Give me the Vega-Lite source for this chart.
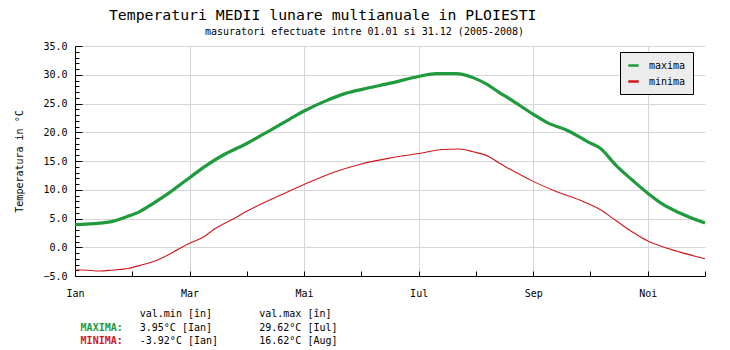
{
  "$schema": "https://vega.github.io/schema/vega-lite/v6.json",
  "background": "white",
  "padding": {"left": 14, "top": 8, "right": 5, "bottom": 0},
  "title": {"text": "Temperaturi MEDII lunare multianuale in PLOIESTI", "anchor": "start", "dx": 94, "font": "DejaVu Sans Mono", "fontSize": 14.8, "fontWeight": "normal", "color": "black", "offset": 4},
  "spacing": 9,
  "datasets": {
    "temps": [
      {"m": 0, "t": 3.95, "s": "maxima"},
      {"m": 0.43, "t": 4.2, "s": "maxima"},
      {"m": 0.66, "t": 4.5, "s": "maxima"},
      {"m": 0.9, "t": 5.3, "s": "maxima"},
      {"m": 1.13, "t": 6.2, "s": "maxima"},
      {"m": 1.36, "t": 7.6, "s": "maxima"},
      {"m": 1.65, "t": 9.5, "s": "maxima"},
      {"m": 2.0, "t": 12.1, "s": "maxima"},
      {"m": 2.29, "t": 14.2, "s": "maxima"},
      {"m": 2.58, "t": 16.0, "s": "maxima"},
      {"m": 2.99, "t": 18.0, "s": "maxima"},
      {"m": 3.4, "t": 20.3, "s": "maxima"},
      {"m": 3.75, "t": 22.3, "s": "maxima"},
      {"m": 4.0, "t": 23.7, "s": "maxima"},
      {"m": 4.39, "t": 25.5, "s": "maxima"},
      {"m": 4.74, "t": 26.8, "s": "maxima"},
      {"m": 5.03, "t": 27.5, "s": "maxima"},
      {"m": 5.49, "t": 28.5, "s": "maxima"},
      {"m": 6.0, "t": 29.7, "s": "maxima"},
      {"m": 6.31, "t": 30.2, "s": "maxima"},
      {"m": 6.66, "t": 30.2, "s": "maxima"},
      {"m": 6.95, "t": 29.5, "s": "maxima"},
      {"m": 7.18, "t": 28.4, "s": "maxima"},
      {"m": 7.41, "t": 26.9, "s": "maxima"},
      {"m": 7.59, "t": 25.8, "s": "maxima"},
      {"m": 7.99, "t": 23.2, "s": "maxima"},
      {"m": 8.28, "t": 21.5, "s": "maxima"},
      {"m": 8.58, "t": 20.4, "s": "maxima"},
      {"m": 8.98, "t": 18.2, "s": "maxima"},
      {"m": 9.16, "t": 17.3, "s": "maxima"},
      {"m": 9.45, "t": 14.2, "s": "maxima"},
      {"m": 9.74, "t": 11.6, "s": "maxima"},
      {"m": 10.0, "t": 9.4, "s": "maxima"},
      {"m": 10.26, "t": 7.5, "s": "maxima"},
      {"m": 10.55, "t": 6.0, "s": "maxima"},
      {"m": 11.0, "t": 4.2, "s": "maxima"},
      {"m": 0, "t": -3.95, "s": "minima"},
      {"m": 0.14, "t": -3.95, "s": "minima"},
      {"m": 0.43, "t": -4.13, "s": "minima"},
      {"m": 0.66, "t": -3.96, "s": "minima"},
      {"m": 0.92, "t": -3.7, "s": "minima"},
      {"m": 1.19, "t": -3.0, "s": "minima"},
      {"m": 1.42, "t": -2.3, "s": "minima"},
      {"m": 1.65, "t": -1.2, "s": "minima"},
      {"m": 2.0, "t": 0.7, "s": "minima"},
      {"m": 2.23, "t": 1.7, "s": "minima"},
      {"m": 2.47, "t": 3.4, "s": "minima"},
      {"m": 2.76, "t": 4.9, "s": "minima"},
      {"m": 2.99, "t": 6.2, "s": "minima"},
      {"m": 3.4, "t": 8.2, "s": "minima"},
      {"m": 3.57, "t": 9.0, "s": "minima"},
      {"m": 3.75, "t": 9.8, "s": "minima"},
      {"m": 4.0, "t": 10.9, "s": "minima"},
      {"m": 4.45, "t": 12.8, "s": "minima"},
      {"m": 4.97, "t": 14.4, "s": "minima"},
      {"m": 5.49, "t": 15.5, "s": "minima"},
      {"m": 6.0, "t": 16.3, "s": "minima"},
      {"m": 6.42, "t": 17.0, "s": "minima"},
      {"m": 6.71, "t": 17.1, "s": "minima"},
      {"m": 6.95, "t": 16.6, "s": "minima"},
      {"m": 7.24, "t": 15.7, "s": "minima"},
      {"m": 7.41, "t": 14.6, "s": "minima"},
      {"m": 7.59, "t": 13.6, "s": "minima"},
      {"m": 7.99, "t": 11.5, "s": "minima"},
      {"m": 8.4, "t": 9.7, "s": "minima"},
      {"m": 8.81, "t": 8.2, "s": "minima"},
      {"m": 9.16, "t": 6.6, "s": "minima"},
      {"m": 9.45, "t": 4.6, "s": "minima"},
      {"m": 9.74, "t": 2.6, "s": "minima"},
      {"m": 10.0, "t": 1.1, "s": "minima"},
      {"m": 10.26, "t": 0.1, "s": "minima"},
      {"m": 10.55, "t": -0.8, "s": "minima"},
      {"m": 11.0, "t": -2.0, "s": "minima"}
    ],
    "notes": [
      {"row": "h", "col": "min", "kind": "val", "txt": "val.min [în]"},
      {"row": "h", "col": "max", "kind": "val", "txt": "val.max [în]"},
      {"row": "MAXIMA", "col": "min", "kind": "val", "txt": "3.95°C [Ian]"},
      {"row": "MAXIMA", "col": "max", "kind": "val", "txt": "29.62°C [Iul]"},
      {"row": "MINIMA", "col": "min", "kind": "val", "txt": "-3.92°C [Ian]"},
      {"row": "MINIMA", "col": "max", "kind": "val", "txt": "16.62°C [Aug]"},
      {"row": "MAXIMA", "col": "min", "kind": "lbl", "txt": "MAXIMA:"},
      {"row": "MINIMA", "col": "min", "kind": "lbl", "txt": "MINIMA:"}
    ]
  },
  "vconcat": [
    {
      "width": 630,
      "height": 230,
      "title": {"text": "masuratori efectuate intre 01.01 si 31.12 (2005-2008)", "anchor": "start", "frame": "group", "dx": 130, "font": "DejaVu Sans Mono", "fontSize": 10, "fontWeight": "normal", "color": "black", "offset": 4},
      "data": {"name": "temps"},
      "encoding": {
        "x": {
          "field": "m", "type": "quantitative",
          "scale": {"domain": [0, 11], "nice": false, "zero": false},
          "axis": {
            "title": null,
            "values": [0, 1, 2, 3, 4, 5, 6, 7, 8, 9, 10, 11],
            "labelExpr": "datum.value % 2 === 0 ? ['Ian','Feb','Mar','Apr','Mai','Iun','Iul','Aug','Sep','Oct','Noi','Dec'][datum.value] : ''",
            "tickSize": -5,
            "labelPadding": 17,
            "labelFlush": false,
            "grid": true,
            "gridColor": "#d6d6d6",
            "gridOpacity": {"condition": {"test": "datum.value % 2 === 0 && datum.value > 0", "value": 1}, "value": 0}
          }
        },
        "y": {
          "field": "t", "type": "quantitative",
          "scale": {"domain": [-5, 35], "nice": false, "zero": false},
          "axis": {
            "title": "Temperatura in °C",
            "values": [-5, -4, -3, -2, -1, 0, 1, 2, 3, 4, 5, 6, 7, 8, 9, 10, 11, 12, 13, 14, 15, 16, 17, 18, 19, 20, 21, 22, 23, 24, 25, 26, 27, 28, 29, 30, 31, 32, 33, 34, 35],
            "labelExpr": "datum.value % 5 === 0 ? format(datum.value, '.1f') : ''",
            "tickSize": {"condition": {"test": "datum.value % 5 === 0", "value": -7}, "value": -4},
            "labelPadding": 15,
            "labelFlush": false,
            "labelOverlap": false,
            "grid": true,
            "gridColor": "#d6d6d6",
            "gridOpacity": {"condition": {"test": "datum.value % 5 === 0 && datum.value > -5", "value": 1}, "value": 0},
            "titlePadding": 18
          }
        },
        "color": {
          "field": "s", "type": "nominal",
          "scale": {"domain": ["maxima", "minima"], "range": ["#1f9a3c", "#d0181c"]},
          "legend": {
            "orient": "none", "legendX": 545, "legendY": 6, "title": null,
            "fillColor": "#ececec", "strokeColor": "black", "padding": 7,
            "symbolType": "stroke", "symbolStrokeWidth": 2.5, "symbolSize": 110,
            "labelFont": "DejaVu Sans Mono", "labelFontSize": 10, "labelColor": "black",
            "rowPadding": 4, "labelOffset": 9
          }
        }
      },
      "layer": [
        {
          "transform": [{"filter": "datum.s === 'minima'"}],
          "mark": {"type": "line", "interpolate": "monotone", "strokeWidth": 1.1}
        },
        {
          "transform": [{"filter": "datum.s === 'maxima'"}],
          "mark": {"type": "line", "interpolate": "monotone", "strokeWidth": 3.2}
        }
      ]
    },
    {
      "width": 249,
      "height": 41,
      "data": {"name": "notes"},
      "encoding": {
        "x": {"field": "col", "type": "nominal", "scale": {"type": "point", "domain": ["min", "max"], "padding": 0.542}, "axis": null},
        "y": {"field": "row", "type": "nominal", "scale": {"type": "point", "domain": ["h", "MAXIMA", "MINIMA"], "padding": 0.5}, "axis": null}
      },
      "layer": [
        {
          "transform": [{"filter": "datum.kind === 'val'"}],
          "mark": {"type": "text", "align": "left", "baseline": "middle", "font": "DejaVu Sans Mono", "fontSize": 10, "color": "black"},
          "encoding": {"text": {"field": "txt"}}
        },
        {
          "transform": [{"filter": "datum.kind === 'lbl' && datum.row === 'MAXIMA'"}],
          "mark": {"type": "text", "align": "right", "baseline": "middle", "dx": -17, "font": "DejaVu Sans Mono", "fontSize": 10, "fontWeight": "bold", "color": "#1f9a3c"},
          "encoding": {"text": {"field": "txt"}}
        },
        {
          "transform": [{"filter": "datum.kind === 'lbl' && datum.row === 'MINIMA'"}],
          "mark": {"type": "text", "align": "right", "baseline": "middle", "dx": -17, "font": "DejaVu Sans Mono", "fontSize": 10, "fontWeight": "bold", "color": "#d0181c"},
          "encoding": {"text": {"field": "txt"}}
        }
      ]
    }
  ],
  "config": {
    "view": {"stroke": null},
    "axis": {"domainColor": "black", "tickColor": "black", "labelColor": "black", "labelFont": "DejaVu Sans Mono", "labelFontSize": 10, "titleFont": "DejaVu Sans Mono", "titleFontSize": 10, "titleFontWeight": "normal", "titleColor": "black"}
  }
}
